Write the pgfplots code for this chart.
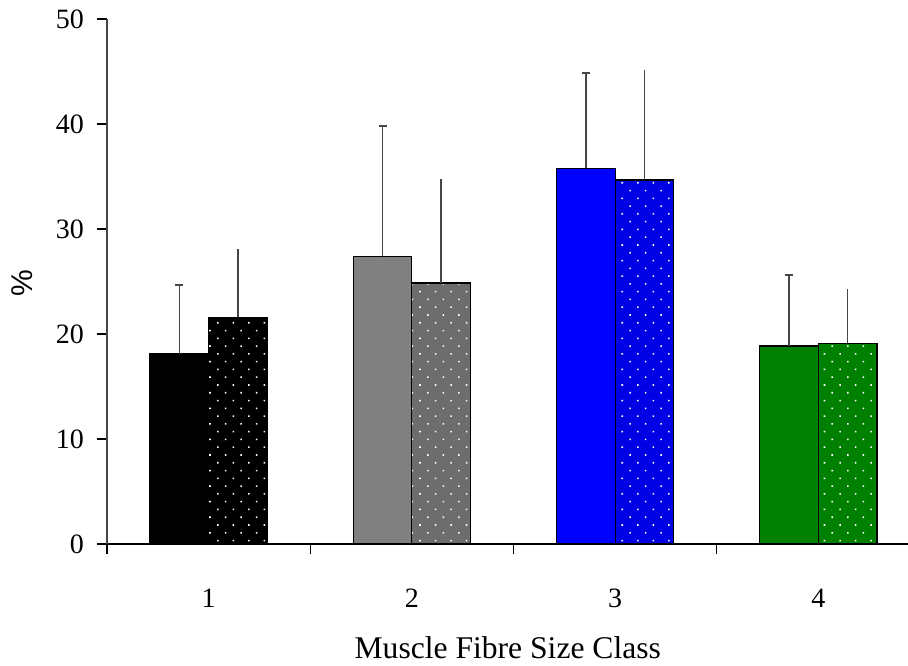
\documentclass[border=0pt]{standalone}
\usepackage{pgfplots}
\pgfplotsset{compat=1.18}
\usetikzlibrary{patterns.meta}
\usepackage{fontspec}
\setmainfont{Liberation Serif}
\newfontfamily\sansf{Liberation Sans}
\definecolor{cgray}{RGB}{128,128,128}
\definecolor{cblue}{RGB}{0,0,255}
\definecolor{cgreen}{RGB}{0,128,0}
\definecolor{errc}{RGB}{70,70,70}
\tikzset{
  dotpat/.style={postaction={pattern={Dots[angle=45,distance=5.5pt,radius=0.55pt]},pattern color=white}},
}
\pgfplotsset{
  abar/.style={ybar, bar shift=0pt, draw=black, line width=0.6pt,
    error bars/y dir=plus, error bars/y explicit, error bars/error mark=-,
    error bars/error mark options={rotate=90, mark size=2pt, errc, line width=0.8pt}},
  bbar/.style={ybar, bar shift=0pt, draw=black, line width=0.6pt, dotpat,
    error bars/y dir=plus, error bars/y explicit, error bars/error mark=none},
}
\begin{document}
\begin{tikzpicture}
\path[use as bounding box] (-53.5pt,-60.5pt) rectangle (400.5pt,272pt);
\begin{axis}[
  at={(0,0)}, anchor=south west,
  scale only axis, width=406.5pt, height=262.5pt,
  xmin=0.5, xmax=4.5, ymin=0, ymax=50,
  axis x line=bottom, axis y line=left,
  axis line style={-, line width=0.7pt},
  y axis line style={errc},
  clip=false,
  font=\fontsize{14pt}{16pt}\selectfont,
  /pgf/number format/assume math mode=true,
  ytick={0,10,...,50},
  xtick={0.5,1.5,2.5,3.5,4.5},
  xticklabels={},
  extra x ticks={1,2,3,4},
  extra x tick labels={1,2,3,4},
  extra x tick style={major tick length=0pt, xticklabel style={yshift=-19pt}},
  tick align=outside,
  major tick length=5pt,
  tick style={black, line width=0.6pt},
  yticklabel style={xshift=-3pt},
  xlabel={Muscle Fibre Size Class},
  xlabel style={at={(axis description cs:0.493,-0.219)}, anchor=base, font=\fontsize{15.8pt}{18pt}\selectfont},
  ylabel={\sansf\fontsize{15pt}{17pt}\selectfont\%},
  ylabel style={at={(axis description cs:-0.1046,0.497)}, anchor=center},
  bar width=0.288,
  error bars/error bar style={errc, line width=0.8pt},
]
% group 1
\addplot[fill=black, abar] coordinates {(0.856,18.1) +- (0,6.57)};
\addplot[fill=black, bbar] coordinates {(1.144,21.6) +- (0,6.5)};
% group 2
\addplot[fill=cgray, abar] coordinates {(1.856,27.4) +- (0,12.4)};
\addplot[fill=cgray!85!black, bbar] coordinates {(2.144,24.86) +- (0,9.9)};
% group 3
\addplot[fill=cblue, abar] coordinates {(2.856,35.8) +- (0,9.06)};
\addplot[fill=cblue!90!black, bbar] coordinates {(3.144,34.67) +- (0,10.43)};
% group 4
\addplot[fill=cgreen, abar] coordinates {(3.856,18.86) +- (0,6.74)};
\addplot[fill=cgreen, bbar] coordinates {(4.144,19.1) +- (0,5.14)};
\end{axis}
\end{tikzpicture}
\end{document}
